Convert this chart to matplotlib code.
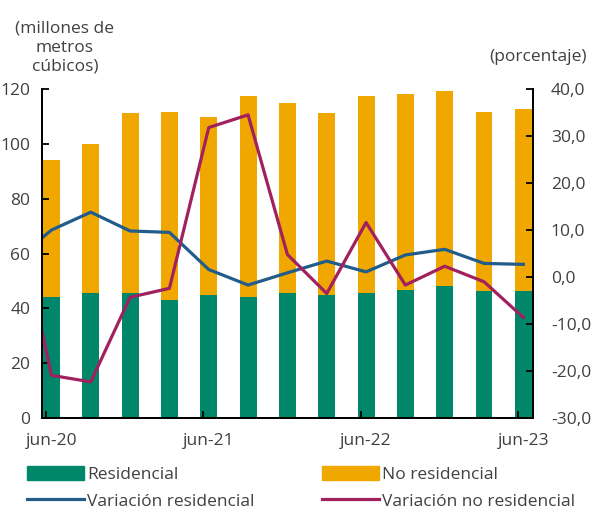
import numpy as np
import matplotlib.pyplot as plt
from matplotlib.lines import Line2D
from matplotlib.patches import Patch

# quarterly data, jun-20 .. jun-23
trimestres = ["jun-20", "sep-20", "dic-20", "mar-21", "jun-21", "sep-21", "dic-21",
              "mar-22", "jun-22", "sep-22", "dic-22", "mar-23", "jun-23"]
residencial = [44.0, 45.5, 45.5, 43.0, 44.9, 44.3, 45.5, 44.9, 45.5, 46.7, 48.1, 46.3, 46.3]
no_residencial = [50.1, 54.5, 65.7, 68.7, 65.0, 73.0, 69.5, 66.2, 71.8, 71.5, 71.2, 65.4, 66.4]

# growth rates start one quarter earlier (mar-20), clipped at the left edge
var_residencial = [3.0, 10.0, 13.8, 9.8, 9.5, 1.6, -1.7, 0.9, 3.4, 1.1, 4.7, 5.9, 2.9, 2.7]
var_no_residencial = [18.0, -20.9, -22.3, -4.3, -2.4, 31.8, 34.5, 4.8, -3.5, 11.6, -1.7, 2.3, -1.0, -8.6]

verde = "#00876A"
naranja = "#F0A800"
azul = "#215C8B"
magenta = "#A0215E"
gris = "#404040"

plt.rcParams["font.family"] = ["Open Sans", "DejaVu Sans"]
plt.rcParams["font.size"] = 12.5

fig = plt.figure(figsize=(6, 5.13), dpi=100)
ax = fig.add_axes([0.07, 0.185, 0.818, 0.6415])

x = np.arange(len(trimestres))
w = 0.43
ax.bar(x, residencial, w, color=verde, label="Residencial")
ax.bar(x, no_residencial, w, bottom=residencial, color=naranja, label="No residencial")

ax2 = ax.twinx()
xl = np.arange(-1, len(trimestres))
ax2.plot(xl, var_residencial, color=azul, lw=2.3, label="Variación residencial")
ax2.plot(xl, var_no_residencial, color=magenta, lw=2.3, label="Variación no residencial")

ax.set_xlim(-0.24, len(trimestres) - 1 + 0.24)
ax.set_ylim(0, 120)
ax.set_yticks(range(0, 121, 20))
ax2.set_ylim(-30, 40)
ax2.set_yticks(range(-30, 41, 10))
ax2.set_yticklabels([f"{v:.1f}".replace(".", ",") for v in range(-30, 41, 10)])

# tick marks sit a little left of the labels, like the original
pos = [0, 4, 8, 12]
ax.set_xticks([p - 0.14 for p in pos])
ax.set_xticklabels([])
ax.set_xticks(pos, minor=True)
ax.set_xticklabels([trimestres[p] for p in pos], minor=True)
ax.tick_params(axis="x", which="major", direction="in", length=5, width=1.3, color="black")
ax.tick_params(axis="x", which="minor", length=0, pad=11, colors=gris)

ax.tick_params(axis="y", direction="in", length=5, width=1.3, pad=8.5, colors=gris)
ax.tick_params(axis="y", color="black")
ax2.tick_params(axis="y", direction="in", length=5, width=1.3, pad=13, colors=gris)
ax2.tick_params(axis="y", color="black")

for a in (ax, ax2):
    a.spines["top"].set_visible(False)
    for s in ("left", "right", "bottom"):
        a.spines[s].set_linewidth(1.3)
        a.spines[s].set_color("black")

fig.text(0.108, 0.96, "(millones de\nmetros\ncúbicos)", ha="center", va="top",
         color=gris, linespacing=1.25)
fig.text(0.896, 0.889, "(porcentaje)", ha="center", va="center", color=gris)

handles = [
    Patch(color=verde), Line2D([], [], color=azul, lw=2.3),
    Patch(color=naranja), Line2D([], [], color=magenta, lw=2.3),
]
labels = ["Residencial", "Variación residencial", "No residencial", "Variación no residencial"]
leg = fig.legend(handles, labels, ncol=2, loc="upper left", bbox_to_anchor=(0.045, 0.092),
                 frameon=False, handlelength=3.3, handleheight=0.9, handletextpad=0.17,
                 columnspacing=3.85, labelspacing=0.55, borderaxespad=0, borderpad=0)
for t in leg.get_texts():
    t.set_color(gris)

fig.savefig("out.png", dpi=100)
